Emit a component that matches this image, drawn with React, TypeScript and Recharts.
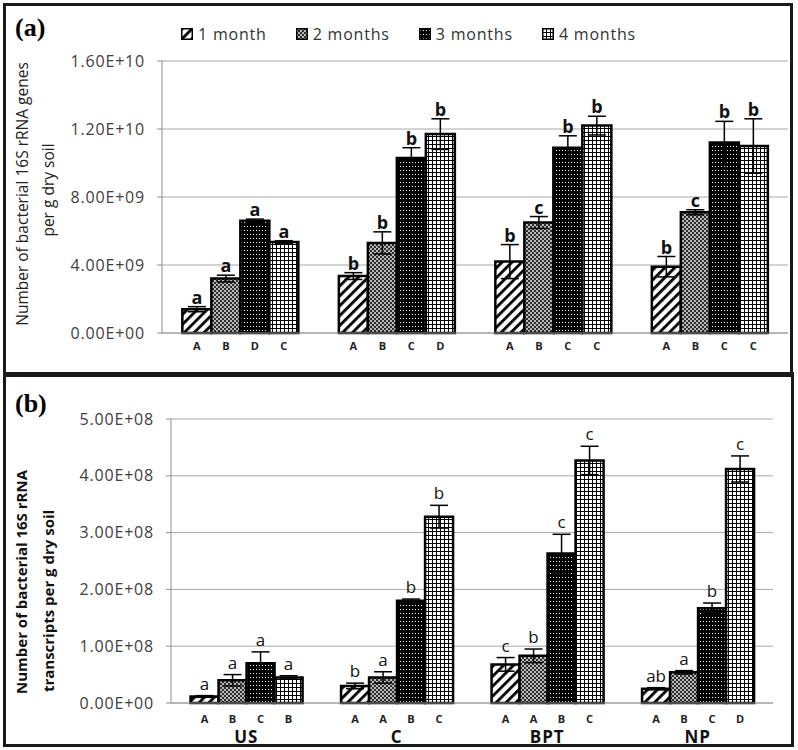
import React from 'react';
import { BarChart, Bar, XAxis, YAxis, CartesianGrid, ErrorBar, LabelList } from 'recharts';

// ---------- shared ----------
const groups = ['US', 'C', 'BPT', 'NP'];
const seriesNames = ['1 month', '2 months', '3 months', '4 months'];

// ---------- panel (a): 16S rRNA genes ----------
const a1 = [1.4e9, 3.35e9, 4.2e9, 3.9e9];
const a2 = [3.2e9, 5.3e9, 6.5e9, 7.1e9];
const a3 = [6.6e9, 10.3e9, 10.9e9, 11.2e9];
const a4 = [5.35e9, 11.7e9, 12.2e9, 11.0e9];
const aErr1 = [0.15e9, 0.2e9, 1.0e9, 0.6e9];
const aErr2 = [0.2e9, 0.65e9, 0.35e9, 0.15e9];
const aErr3 = [0.1e9, 0.6e9, 0.7e9, 1.25e9];
const aErr4 = [0.08e9, 0.9e9, 0.55e9, 1.6e9];
const aSig1 = ['a', 'b', 'b', 'b'];
const aSig2 = ['a', 'b', 'c', 'c'];
const aSig3 = ['a', 'b', 'b', 'b'];
const aSig4 = ['a', 'b', 'b', 'b'];
const aCat1 = ['A', 'A', 'A', 'A'];
const aCat2 = ['B', 'B', 'B', 'B'];
const aCat3 = ['D', 'C', 'C', 'C'];
const aCat4 = ['C', 'D', 'C', 'C'];
const aTicks = [0, 4e9, 8e9, 1.2e10, 1.6e10];

// ---------- panel (b): 16S rRNA transcripts ----------
const b1 = [1.15e7, 3.0e7, 6.8e7, 2.5e7];
const b2 = [4.0e7, 4.5e7, 8.3e7, 5.4e7];
const b3 = [7.0e7, 1.8e8, 2.63e8, 1.67e8];
const b4 = [4.5e7, 3.28e8, 4.27e8, 4.12e8];
const bErr1 = [0.15e7, 0.5e7, 1.2e7, 0.2e7];
const bErr2 = [1.0e7, 1.0e7, 1.2e7, 0.3e7];
const bErr3 = [2.0e7, 0.3e7, 3.4e7, 0.9e7];
const bErr4 = [0.3e7, 2.0e7, 2.5e7, 2.3e7];
const bSig1 = ['a', 'b', 'c', 'ab'];
const bSig2 = ['a', 'a', 'b', 'a'];
const bSig3 = ['a', 'b', 'c', 'b'];
const bSig4 = ['a', 'b', 'c', 'c'];
const bCat1 = ['A', 'A', 'A', 'A'];
const bCat2 = ['B', 'A', 'A', 'B'];
const bCat3 = ['C', 'B', 'B', 'C'];
const bCat4 = ['B', 'C', 'C', 'D'];
const bTicks = [0, 1e8, 2e8, 3e8, 4e8, 5e8];

const buildRows = (
  vals: number[][],
  errs: number[][],
  sigs: string[][],
  cats: string[][]
) =>
  groups.map((g, i) => {
    const row: Record<string, any> = { group: g };
    for (let k = 0; k < 4; k++) {
      row[`v${k + 1}`] = vals[k][i];
      row[`e${k + 1}`] = errs[k][i];
      row[`s${k + 1}`] = sigs[k][i];
      row[`t${k + 1}`] = cats[k][i];
    }
    return row;
  });

const dataA = buildRows([a1, a2, a3, a4], [aErr1, aErr2, aErr3, aErr4], [aSig1, aSig2, aSig3, aSig4], [aCat1, aCat2, aCat3, aCat4]);
const dataB = buildRows([b1, b2, b3, b4], [bErr1, bErr2, bErr3, bErr4], [bSig1, bSig2, bSig3, bSig4], [bCat1, bCat2, bCat3, bCat4]);

const fmtSci = (v: number) => {
  if (v === 0) return '0.00E+00';
  const e = Math.floor(Math.log10(v) + 1e-9);
  const m = v / Math.pow(10, e);
  return `${m.toFixed(2)}E+${String(e).padStart(2, '0')}`;
};

const FONT = "'Open Sans', sans-serif";

const patterns = (p: string) => (
  <defs>
    <pattern id={`${p}p1`} patternUnits="userSpaceOnUse" width="7" height="7" patternTransform="rotate(45)">
      <rect width="7" height="7" fill="#fff" />
      <rect width="2.8" height="7" fill="#000" />
    </pattern>
    <pattern id={`${p}p2`} patternUnits="userSpaceOnUse" width="4" height="4">
      <rect width="4" height="4" fill="#b8b8b8" />
      <rect width="2" height="2" fill="#2e2e2e" />
      <rect x="2" y="2" width="2" height="2" fill="#2e2e2e" />
    </pattern>
    <pattern id={`${p}p3`} patternUnits="userSpaceOnUse" width="3" height="4">
      <rect width="3" height="4" fill="#000" />
      <rect x="1" y="2" width="1" height="1" fill="#fff" />
    </pattern>
    <pattern id={`${p}p4`} patternUnits="userSpaceOnUse" width="4" height="4">
      <rect width="4" height="4" fill="#fff" />
      <rect width="4" height="1" fill="#000" />
      <rect width="1" height="4" fill="#000" />
    </pattern>
  </defs>
);

type PanelCfg = {
  prefix: string;
  data: any[];
  width: number;
  height: number;
  margin: { top: number; right: number; bottom: number; left: number };
  ticks: number[];
  xHeight: number;
  showGroups: boolean;
  sigOffset: number;
  sigWeight: string;
  sigSize: number;
  catOffset: number;
};

const Panel = (c: PanelCfg) => {
  const keys = [1, 2, 3, 4];
  return (
    <BarChart
      width={c.width}
      height={c.height}
      data={c.data}
      margin={c.margin}
      barCategoryGap="13%"
      barGap={0}
    >
      {patterns(c.prefix)}
      <CartesianGrid vertical={false} stroke="#a8a8a8" strokeWidth={1} />
      <XAxis
        dataKey="group"
        type="category"
        height={c.xHeight}
        axisLine={{ stroke: '#999', strokeWidth: 1 }}
        tickLine={false}
        tickSize={0}
        tickMargin={28}
        tick={
          c.showGroups
            ? { fill: '#111', fontSize: 17, fontWeight: 'bold', fontFamily: FONT, letterSpacing: 1 }
            : false
        }
      />
      <YAxis
        type="number"
        domain={[c.ticks[0], c.ticks[c.ticks.length - 1]]}
        ticks={c.ticks}
        interval={0}
        width={80}
        tickFormatter={fmtSci}
        axisLine={{ stroke: '#8c8c8c', strokeWidth: 1 }}
        tickLine={{ stroke: '#8c8c8c' }}
        tickSize={5}
        tickMargin={12}
        tick={{ fill: '#404040', fontSize: 16, fontFamily: FONT, letterSpacing: 0.8 }}
      />
      {keys.map((k) => [
        <Bar
          key={`v${k}`}
          dataKey={`v${k}`}
          name={seriesNames[k - 1]}
          stackId={`st${k}`}
          fill={`url(#${c.prefix}p${k})`}
          stroke="#000"
          strokeWidth={2.5}
          isAnimationActive={false}
        >
          <ErrorBar dataKey={`e${k}`} width={9} strokeWidth={1.5} stroke="#000" direction="y" />
          <LabelList
            dataKey={`t${k}`}
            position="bottom"
            offset={c.catOffset}
            fill="#222"
            fontSize={11}
            fontWeight="bold"
            fontFamily={FONT}
          />
        </Bar>,
        <Bar
          key={`e${k}`}
          dataKey={`e${k}`}
          stackId={`st${k}`}
          fill="none"
          stroke="none"
          legendType="none"
          isAnimationActive={false}
        >
          <LabelList
            dataKey={`s${k}`}
            position="top"
            offset={c.sigOffset}
            fill="#111"
            fontSize={c.sigSize}
            fontWeight={c.sigWeight}
            fontFamily={FONT}
          />
        </Bar>,
      ])}
    </BarChart>
  );
};

const Legend = () => (
  <div
    style={{
      position: 'absolute',
      left: 181,
      top: 23,
      display: 'flex',
      alignItems: 'center',
      fontFamily: FONT,
      fontSize: 16,
      color: '#333',
      letterSpacing: 0.8,
      whiteSpace: 'nowrap',
    }}
  >
    {seriesNames.map((n, i) => (
      <div key={n} style={{ display: 'flex', alignItems: 'center', marginRight: 29 }}>
        <svg width={12} height={12} style={{ display: 'block' }}>
          <rect x={0.75} y={0.75} width={10.5} height={10.5} fill={`url(#ap${i + 1})`} stroke="#000" strokeWidth={1.5} />
        </svg>
        <span style={{ marginLeft: 5 }}>{n}</span>
      </div>
    ))}
  </div>
);

export default function App() {
  return (
    <div style={{ position: 'absolute', left: 0, top: 0, width: 798, height: 750, background: '#fff', overflow: 'hidden' }}>
      {/* panel frames */}
      <div style={{ position: 'absolute', left: 3, top: 3, width: 790, height: 372, boxSizing: 'border-box', border: '3px solid #1a1a1a' }} />
      <div style={{ position: 'absolute', left: 3, top: 372, width: 791, height: 375, boxSizing: 'border-box', border: '3px solid #1a1a1a', borderTopWidth: 5 }} />

      <div style={{ position: 'absolute', left: 0, top: 0 }}>
        <Panel
          prefix="a"
          data={dataA}
          width={798}
          height={373}
          margin={{ top: 61, right: 10, bottom: 10, left: 82 }}
          ticks={aTicks}
          xHeight={30}
          showGroups={false}
          sigOffset={3}
          sigWeight="bold"
          sigSize={18}
          catOffset={9}
        />
      </div>
      <div style={{ position: 'absolute', left: 0, top: 375 }}>
        <Panel
          prefix="b"
          data={dataB}
          width={798}
          height={372}
          margin={{ top: 44, right: 25, bottom: 0, left: 91 }}
          ticks={bTicks}
          xHeight={44}
          showGroups={true}
          sigOffset={6}
          sigWeight="normal"
          sigSize={17}
          catOffset={12}
        />
      </div>

      <Legend />

      <svg width={798} height={750} style={{ position: 'absolute', left: 0, top: 0, pointerEvents: 'none' }}>
        <text x={15} y={36} fontFamily="'Liberation Serif', serif" fontWeight="bold" fontSize={26} fill="#000">(a)</text>
        <text x={15} y={412} fontFamily="'Liberation Serif', serif" fontWeight="bold" fontSize={26} fill="#000">(b)</text>

        <text transform="translate(22,194) rotate(-90)" textAnchor="middle" dominantBaseline="central" fontFamily={FONT} fontSize={15.5} fill="#222">
          Number of bacterial 16S rRNA genes
        </text>
        <text transform="translate(48,190) rotate(-90)" textAnchor="middle" dominantBaseline="central" fontFamily={FONT} fontSize={15.5} fill="#222">
          per g dry soil
        </text>

        <text transform="translate(21,582) rotate(-90)" textAnchor="middle" dominantBaseline="central" fontFamily={FONT} fontWeight="bold" fontSize={15} fill="#111">
          Number of bacterial 16S rRNA
        </text>
        <text transform="translate(48,601) rotate(-90)" textAnchor="middle" dominantBaseline="central" fontFamily={FONT} fontWeight="bold" fontSize={15} fill="#111">
          transcripts per g dry soil
        </text>
      </svg>
    </div>
  );
}
